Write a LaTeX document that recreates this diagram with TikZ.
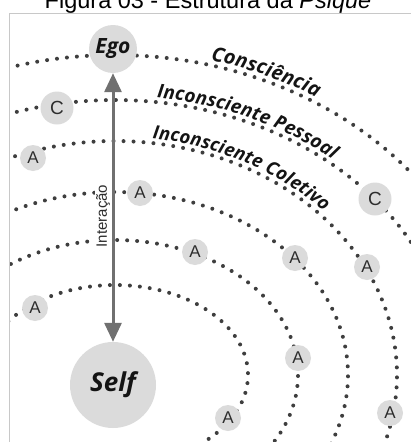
\documentclass[tikz,border=0pt]{standalone}
\usepackage{fontspec}
\setmainfont{Liberation Sans}
\newfontfamily\hand{Open Sans}
\usetikzlibrary{arrows.meta,decorations.text}
\definecolor{circfill}{RGB}{219,219,219}
\definecolor{dotcol}{RGB}{62,62,62}
\definecolor{arrowcol}{RGB}{112,112,112}
\definecolor{bordercol}{RGB}{200,200,200}
\definecolor{lettercol}{RGB}{45,45,45}
\definecolor{handcol}{RGB}{20,20,20}
\tikzset{
  dotline/.style={draw=dotcol, line width=4pt, line cap=round, dash pattern=on 0pt off 10pt},
  bubble/.style={circle, fill=circfill, inner sep=0pt, text=lettercol, font=\fontsize{17}{17}\selectfont},
  abubble/.style={bubble, minimum size=26pt},
  cbubble/.style={bubble, minimum size=33pt, font=\fontsize{19}{19}\selectfont},
  bigbubble/.style={circle, fill=circfill, inner sep=0pt, text=handcol},
  handlabel/.style={decoration={text along path, text align=center, text color=handcol, raise=#1}, decorate},
}
\begin{document}
\begin{tikzpicture}[x=1pt,y=-1pt]
\useasboundingbox (0,0) rectangle (411,442);
\clip (0,0) rectangle (411,442);
% title (cut at the top)
\node[anchor=base, inner sep=0pt, text=black, font=\fontsize{23.5}{28}\selectfont] (title) at (208,8.5) {Figura 03 - Estrutura da \textit{Psique}};
% frame lines
\coordinate (tl) at (9,13.5);
\coordinate (tr) at (411,13.5);
\coordinate (bl) at (9,442);
\draw[bordercol, line width=0.8pt] (tr) -- (tl) -- (bl);
% concentric dotted arcs
\begin{scope}
\clip (10,14) rectangle (411,442);
\draw[dotline] plot[domain=30:107, samples=120] ({115+382*cos(\x)},{375-320*sin(\x)});
\draw[dotline] plot[domain=25:109, samples=120] ({115+338*cos(\x)},{375-275*sin(\x)});
\draw[dotline] plot[domain=-20:113, samples=140] ({115+282*cos(\x)},{375-234*sin(\x)});
\draw[dotline] plot[domain=-25:118, samples=140] ({115+233*cos(\x)},{375-183*sin(\x)});
\draw[dotline] plot[domain=-33:127, samples=140] ({115+183*cos(\x)},{375-135*sin(\x)});
\draw[dotline] plot[domain=-55:145, samples=140] ({115+133*cos(\x)},{375-90*sin(\x)});
\end{scope}
% handwritten labels along the arcs
\path[handlabel=5pt, decoration={text={|\hand\bfseries\itshape\fontsize{20}{20}\selectfont|Consciência}}]
  plot[domain=-80:-54, samples=60] ({115+382*cos(\x)},{375+320*sin(\x)});
\path[handlabel=4.5pt, decoration={text={|\hand\bfseries\itshape\fontsize{19}{19}\selectfont|Inconsciente Pessoal}}]
  plot[domain=-88:-45, samples=80] ({115+338*cos(\x)},{375+275*sin(\x)});
\path[handlabel=4.5pt, decoration={text={|\hand\bfseries\itshape\fontsize{18.5}{18.5}\selectfont|Inconsciente Coletivo}}]
  plot[domain=-88:-37, samples=80] ({115+282*cos(\x)},{375+234*sin(\x)});
% main nodes
\node[bigbubble, minimum size=48pt, font=\hand\bfseries\itshape\fontsize{21}{21}\selectfont] (ego) at (113,49) {Ego};
\node[bigbubble, minimum size=86pt, font=\hand\bfseries\itshape\fontsize{26}{26}\selectfont] (self) at (113,385) {Self};
\node[cbubble] (c1) at (57,108) {C};
\node[cbubble] (c2) at (375,199) {C};
\node[abubble] (a1) at (33,158) {A};
\node[abubble] (a2) at (140,193) {A};
\node[abubble] (a3) at (195,252) {A};
\node[abubble] (a4) at (295,258) {A};
\node[abubble] (a5) at (367,267) {A};
\node[abubble] (a6) at (35,308) {A};
\node[abubble] (a7) at (298,358) {A};
\node[abubble] (a8) at (228,418) {A};
\node[abubble] (a9) at (390,413) {A};
% interaction arrow
\draw[arrowcol, line width=3pt, {Triangle[length=19pt,width=17pt]}-{Triangle[length=19pt,width=17pt]}] (ego.south) -- (self.north);
\node[rotate=90, fill=white, inner sep=1pt, text=lettercol, font=\fontsize{15}{15}\selectfont] (inter) at (103,216) {Interação};
\end{tikzpicture}
\end{document}
